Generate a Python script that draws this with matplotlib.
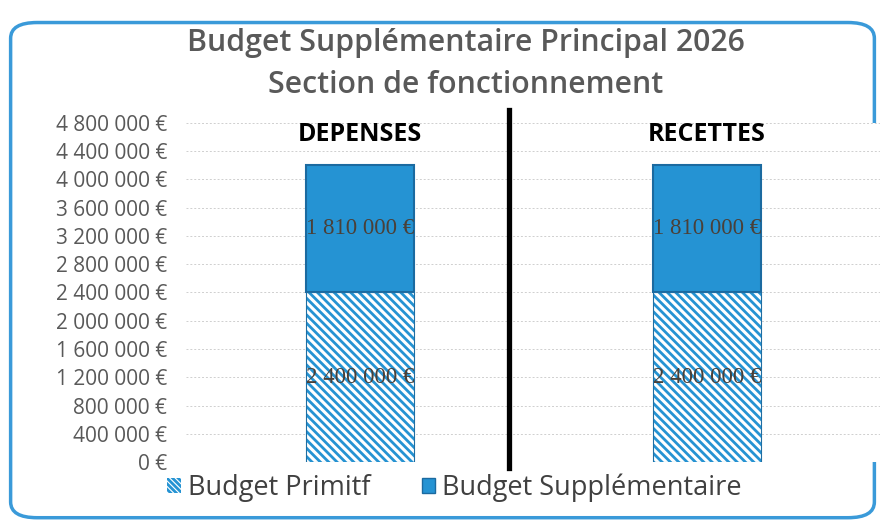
import matplotlib.pyplot as plt
from matplotlib.patches import FancyBboxPatch, Patch
from matplotlib.ticker import FuncFormatter

# Données
categories = ["DEPENSES", "RECETTES"]
budget_primitif = [2400000, 2400000]
budget_supplementaire = [1810000, 1810000]
titre = "Budget Supplémentaire Principal 2026\nSection de fonctionnement"
yticks = list(range(0, 4800001, 400000))

bleu = "#2593d3"
gris = "#595959"
plt.rcParams["hatch.linewidth"] = 2.0


def euros(v, pos=None):
    s = "{:,.0f}".format(v).replace(",", " ")
    return s + " €"


fig = plt.figure(figsize=(8.85, 5.24), dpi=100)
fig.patch.set_facecolor("white")

# cadre arrondi
cadre = FancyBboxPatch((0.012, 0.012), 0.976, 0.945,
                       boxstyle="round,pad=0,rounding_size=0.03",
                       transform=fig.transFigure, facecolor="none",
                       edgecolor="#3a9ad9", linewidth=2.5, zorder=-1)
fig.patches.append(cadre)

fig.text(0.526, 0.878, titre, ha="center", va="center", fontsize=21.8,
         fontweight="semibold", color=gris, family="Open Sans", linespacing=1.5)

ax = fig.add_axes([0.2107, 0.1183, 0.784, 0.647])
x = range(len(categories))
largeur = 0.31

ax.bar(x, budget_primitif, width=largeur, color="white", edgecolor=bleu,
       hatch="\\\\\\\\", linewidth=0, label="Budget Primitf", zorder=2)
ax.bar(x, budget_primitif, width=largeur, color="none", edgecolor="#1f6ea3",
       linewidth=0.8, zorder=3)
ax.bar(x, budget_supplementaire, bottom=budget_primitif, width=largeur,
       color=bleu, edgecolor="#1b6aa0", linewidth=1.5,
       label="Budget Supplémentaire", zorder=2)

for i in x:
    ax.text(i, budget_primitif[i] / 2, euros(budget_primitif[i]),
            ha="center", va="center", fontsize=16.5, color="#4a4038",
            family="Liberation Serif", zorder=4)
    ax.text(i, budget_primitif[i] + budget_supplementaire[i] / 2,
            euros(budget_supplementaire[i]), ha="center", va="center",
            fontsize=16.5, color="#4a4038", family="Liberation Serif", zorder=4)
    ax.text(i, 0.965, categories[i], transform=ax.get_xaxis_transform(),
            ha="center", va="center", fontsize=18, fontweight="bold",
            color="black", family="Open Sans")

# séparateur
ax.plot([0.43, 0.43], [-0.018, 1.038], transform=ax.get_xaxis_transform(),
        color="black", linewidth=3.8, clip_on=False, zorder=5)

ax.set_xlim(-0.5, 1.5)
ax.set_ylim(0, 4800000)
ax.set_yticks(yticks)
ax.yaxis.set_major_formatter(FuncFormatter(euros))
ax.set_xticks([])
ax.tick_params(axis="y", length=0, labelsize=15, labelcolor=gris, pad=14)
for lab in ax.get_yticklabels():
    lab.set_family("Open Sans")
ax.grid(axis="y", color="#cfcfcf", linestyle=(0, (2, 2)), linewidth=0.7, zorder=0)
for s in ax.spines.values():
    s.set_visible(False)

handles = [Patch(facecolor="white", edgecolor=bleu, hatch="\\\\\\\\\\\\", linewidth=0),
           Patch(facecolor=bleu, edgecolor="#1b6aa0")]
fig.legend(handles, ["Budget Primitf", "Budget Supplémentaire"],
           loc="center left", bbox_to_anchor=(0.189, 0.069), ncol=2, frameon=False,
           prop={"family": "Open Sans", "size": 19.5}, labelcolor="#404040",
           borderaxespad=0, borderpad=0,
           handlelength=0.5, handleheight=0.5, handletextpad=0.25, columnspacing=1.9)

plt.savefig("out.png", dpi=100)
